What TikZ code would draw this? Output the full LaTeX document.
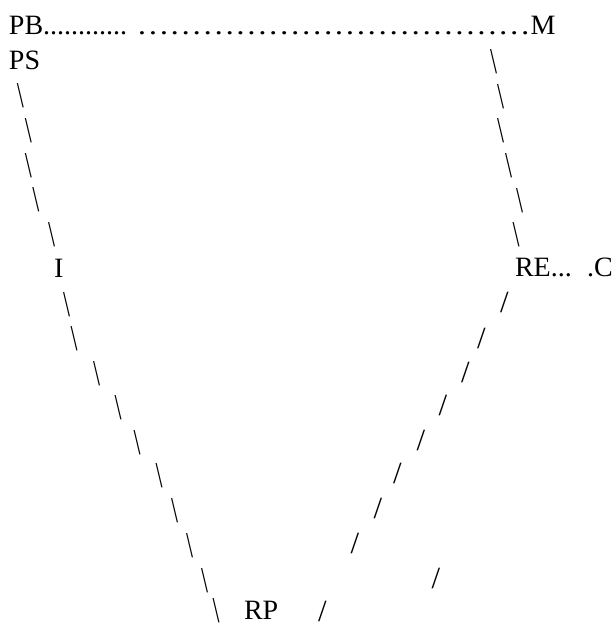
\documentclass[tikz,border=0pt]{standalone}
\usepackage{fontspec}
\setmainfont{Liberation Serif}
\usepackage{graphicx}
\newcommand\mybs{\scalebox{0.9}[1.3]{\textbackslash}}
\newcommand\myfs{\scalebox{1.1}{/}}
\begin{document}
\begin{tikzpicture}[x=1pt,y=-1pt,
  txt/.style={inner sep=0pt, outer sep=0pt, anchor=base west, font=\fontsize{28}{34}\selectfont},
  bk/.style={inner sep=0pt, outer sep=0pt, anchor=center, font=\fontsize{28}{34}\selectfont}]
\useasboundingbox (0,0) rectangle (615,624);
% texts
\node[txt] (pb) at (9,34) {PB............ \scalebox{1.173}[1]{………………………………}M};
\node[txt] (ps) at (9,69) {PS};
\node[txt] (i) at (54,277) {I};
\node[txt] (re) at (515,276) {RE...\hspace{6pt} .C};
\node[txt] (rp) at (244,619.5) {RP};
% left column
\node[bk] (l3) at (20.5,96) {\mybs};
\node[bk] (l4) at (28.5,131) {\mybs};
\node[bk] (l5) at (28.5,165.5) {\mybs};
\node[bk] (l6) at (36,200) {\mybs};
\node[bk] (l7) at (51.5,234.5) {\mybs};
\node[bk] (l9) at (66.5,304.5) {\mybs};
\node[bk] (l10) at (74,338.5) {\mybs};
\node[bk] (l11) at (96.5,373.5) {\mybs};
\node[bk] (l12) at (118,408) {\mybs};
\node[bk] (l13) at (137,443) {\mybs};
\node[bk] (l14) at (159,475.5) {\mybs};
\node[bk] (l15) at (174.5,510.5) {\mybs};
\node[bk] (l16) at (189.5,545.5) {\mybs};
\node[bk] (l17) at (204.5,580.5) {\mybs};
\node[bk] (l18) at (216,610.5) {\mybs};
% right column
\node[bk] (r2) at (493.5,62) {\mybs};
\node[bk] (r3) at (500.5,96.5) {\mybs};
\node[bk] (r4) at (500.5,131) {\mybs};
\node[bk] (r5) at (508.5,165.5) {\mybs};
\node[bk] (r6) at (519.5,200.5) {\mybs};
\node[bk] (r7) at (516,234.5) {\mybs};
\node[bk] (r9) at (504.5,302.5) {\myfs};
\node[bk] (r10) at (481.5,338.5) {\myfs};
\node[bk] (r11) at (465.5,372) {\myfs};
\node[bk] (r12) at (443,405) {\myfs};
\node[bk] (r13) at (421,440) {\myfs};
\node[bk] (r14) at (397.5,473) {\myfs};
\node[bk] (r15) at (378,508.5) {\myfs};
\node[bk] (r16) at (355,543) {\myfs};
\node[bk] (r17) at (436,578) {\myfs};
\node[bk] (r18) at (322.5,611) {\myfs};
\end{tikzpicture}
\end{document}
